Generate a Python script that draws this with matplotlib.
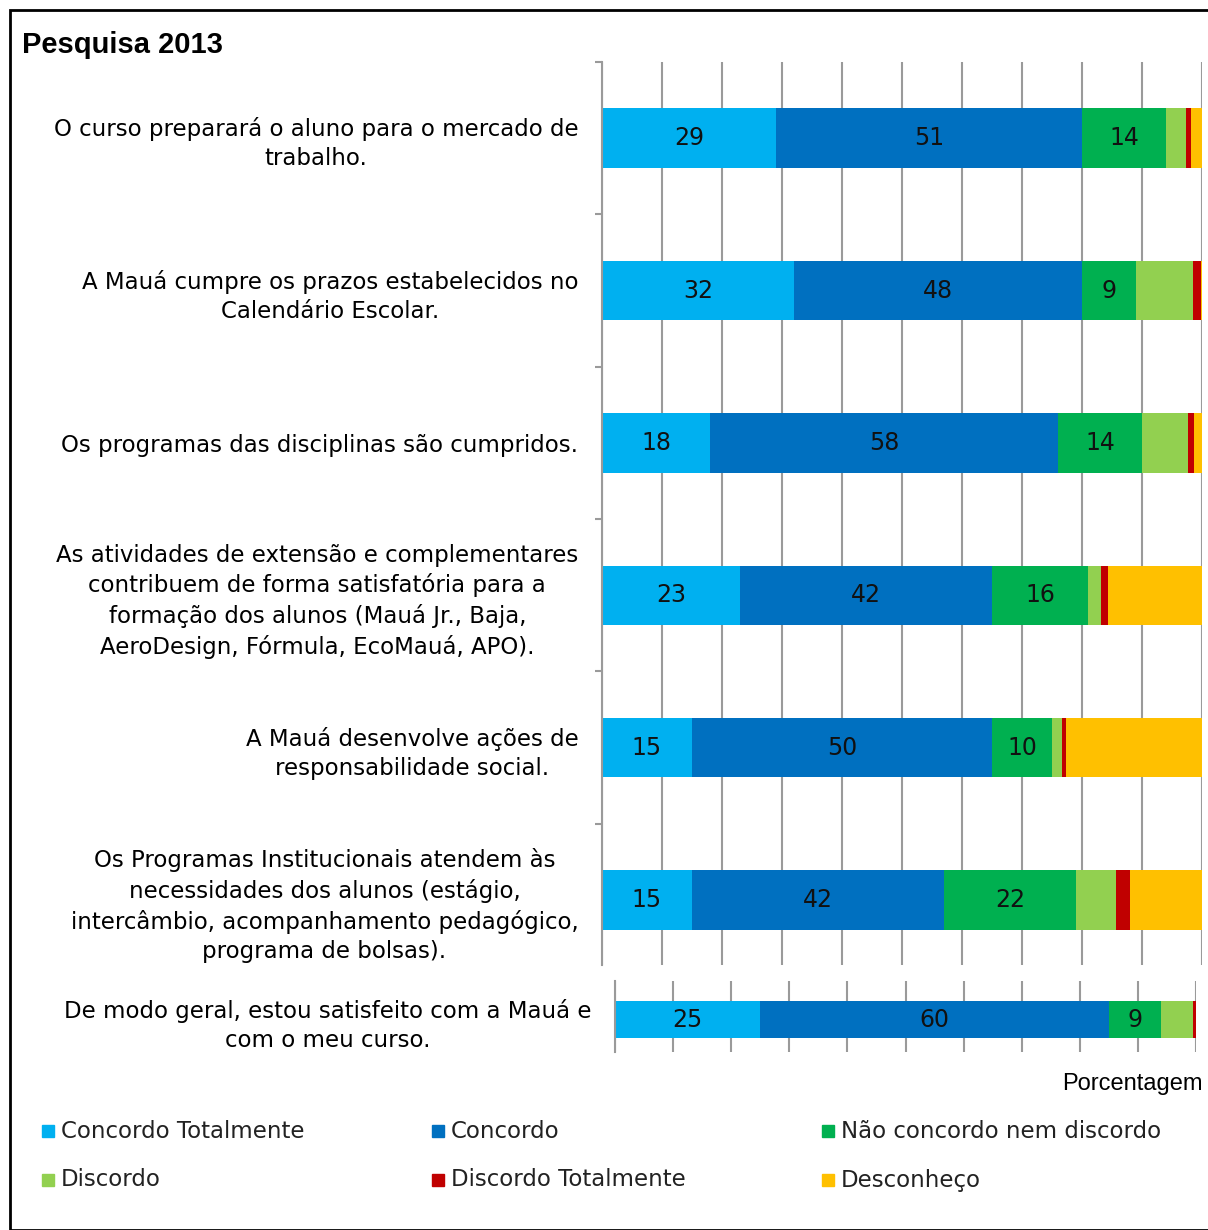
import matplotlib
matplotlib.use("Agg")
import matplotlib.pyplot as plt
from matplotlib.patches import Rectangle

# data (percent)
questions = [
    "O curso preparará o aluno para o mercado de\ntrabalho.",
    "A Mauá cumpre os prazos estabelecidos no\nCalendário Escolar.",
    "Os programas das disciplinas são cumpridos.",
    "As atividades de extensão e complementares\ncontribuem de forma satisfatória para a\nformação dos alunos (Mauá Jr., Baja,\nAeroDesign, Fórmula, EcoMauá, APO).",
    "A Mauá desenvolve ações de\nresponsabilidade social.",
    "Os Programas Institucionais atendem às\nnecessidades dos alunos (estágio,\nintercâmbio, acompanhamento pedagógico,\nprograma de bolsas).",
]
general_question = "De modo geral, estou satisfeito com a Mauá e\ncom o meu curso."

series_names = ["Concordo Totalmente", "Concordo", "Não concordo nem discordo",
                "Discordo", "Discordo Totalmente", "Desconheço"]
concordo_tot = [29, 32, 18, 23, 15, 15]
concordo = [51, 48, 58, 42, 50, 42]
neutro = [14, 9, 14, 16, 10, 22]
discordo = [3.4, 9.5, 7.7, 2.2, 1.7, 6.7]
discordo_tot = [0.7, 1.3, 1.0, 1.2, 0.7, 2.3]
desconheco = [1.9, 0.2, 1.3, 15.6, 22.6, 12.0]

general = [25, 60, 9, 5.4, 0.6, 0]

colors = ["#00B0F0", "#0070C0", "#00B050", "#92D050", "#C00000", "#FFC000"]
grid_c = "#9a9a9a"
W, H = 1208, 1230


def stacked(ax, rows, height):
    n = len(rows[0])
    ypos = list(range(n))
    left = [0.0] * n
    for k, vals in enumerate(rows):
        bars = ax.barh(ypos, vals, left=left, height=height, color=colors[k],
                       edgecolor="none", zorder=3)
        if k < 3:
            ax.bar_label(bars, labels=[str(int(v)) for v in vals], label_type="center",
                         fontsize=17, color="#111111", family="Liberation Sans Narrow")
        left = [a + b for a, b in zip(left, vals)]
    ax.set_xlim(0, 100)
    ax.set_xticks(range(0, 101, 10))
    ax.tick_params(axis="x", length=0, labelbottom=False)
    ax.grid(axis="x", color=grid_c, linewidth=1.5, zorder=0)
    for s in ["top", "right", "bottom"]:
        ax.spines[s].set_visible(False)
    ax.spines["left"].set_color(grid_c)
    ax.spines["left"].set_linewidth(1.5)
    ax.spines["left"].set_zorder(4)


fig = plt.figure(figsize=(W / 100, H / 100), dpi=100)

# main chart
ax = fig.add_axes([602 / W, 1 - 965 / H, 600 / W, 903 / H])
stacked(ax, [concordo_tot, concordo, neutro, discordo, discordo_tot, desconheco], 0.39)
ax.set_ylim(5.427, -0.499)
ax.set_yticks(range(len(questions)))
ax.set_yticklabels(questions, fontsize=16.5, family="DejaVu Sans",
                   multialignment="center", linespacing=1.35)
ax.tick_params(axis="y", which="major", length=0, pad=17)
ax.set_yticks([i - 0.5 for i in range(len(questions))], minor=True)
ax.tick_params(axis="y", which="minor", length=5, width=1.5, color=grid_c)

# general satisfaction chart
ax2 = fig.add_axes([615 / W, 1 - 1052 / H, 581 / W, 71 / H])
stacked(ax2, [[v] for v in general], 0.57)
ax2.set_ylim(0.5, -0.6)
ax2.set_yticks([0])
ax2.set_yticklabels([general_question], fontsize=16.5, family="DejaVu Sans",
                    multialignment="center", linespacing=1.35)
ax2.tick_params(axis="y", length=0, pad=17)

# title, axis caption, legend
fig.text(22 / W, 1 - 45 / H, "Pesquisa 2013", fontsize=21, fontweight="bold",
         family="Liberation Sans", va="center")
fig.text(1203 / W, 1 - 1084 / H, "Porcentagem", fontsize=17, family="Liberation Sans",
         ha="right", va="center")

legend_x = [42, 432, 822]
legend_y = [1131, 1180]
for i, name in enumerate(series_names):
    x = legend_x[i % 3]
    y = legend_y[i // 3]
    fig.patches.append(Rectangle((x / W, 1 - (y + 6) / H), 12 / W, 12 / H,
                                 transform=fig.transFigure, color=colors[i]))
    fig.text((x + 19) / W, 1 - y / H, name, fontsize=16.5, family="DejaVu Sans",
             va="center", color="#222222")

# outer frame
fig.patches.append(Rectangle((10 / W, 0), 1, 1 - 10 / H, transform=fig.transFigure,
                             fill=False, edgecolor="black", linewidth=2))

fig.savefig("out.png", dpi=100)
